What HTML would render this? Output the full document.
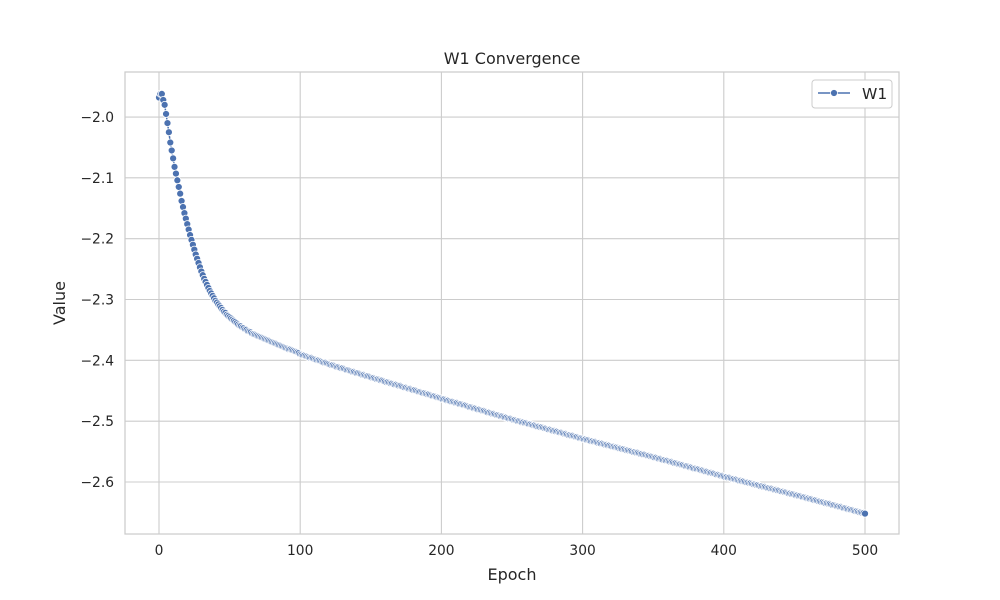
<!DOCTYPE html>
<html><head><meta charset="utf-8"><style>
body{margin:0;background:#fff;}
svg{display:block;font-family:"DejaVu Sans","Liberation Sans",sans-serif;}
</style></head><body>
<svg id="chart" width="1000" height="600">
<rect x="0" y="0" width="1000" height="600" fill="#fff"/>
<g id="grid"></g>
<g id="marks"></g>
<rect x="125" y="72" width="774" height="462" fill="none" stroke="#cccccc" stroke-width="1.25"/>
<g id="ticks"></g>
<text x="512" y="64" text-anchor="middle" font-size="16" fill="#262626">W1 Convergence</text>
<text x="512" y="580" text-anchor="middle" font-size="16" fill="#262626">Epoch</text>
<text x="65" y="303" text-anchor="middle" font-size="16" fill="#262626" transform="rotate(-90 65 303)">Value</text>
<g>
<rect x="812" y="80" width="80" height="28" rx="3" fill="#fff" stroke="#cccccc"/>
<line x1="818" y1="93" x2="850" y2="93" stroke="#4c72b0" stroke-width="1.5"/>
<circle cx="834" cy="93" r="3.5" fill="#4c72b0" stroke="#fff" stroke-width="0.8"/>
<text x="862" y="99" font-size="15.5" fill="#262626">W1</text>
</g>
</svg>
<script>
const xTicks=[0,100,200,300,400,500];
const yTicks=[-2.0,-2.1,-2.2,-2.3,-2.4,-2.5,-2.6];
const yTickLabels=["\u22122.0","\u22122.1","\u22122.2","\u22122.3","\u22122.4","\u22122.5","\u22122.6"];
// values in thousandths (negated), epochs 0..500
const w1Milli=[1968,1962,1962,1972,1980,1995,2010,2025,2042,2055,2068,
2082,2093,2104,2115,2126,2138,2148,2158,2167,2176,
2185,2194,2202,2210,2218,2226,2233,2240,2247,2254,
2260,2266,2271,2276,2281,2286,2290,2294,2298,2302,
2305,2308,2311,2314,2317,2320,2322,2325,2327,2329,
2331,2333,2335,2337,2339,2341,2343,2344,2346,2347,
2349,2350,2352,2353,2354,2356,2357,2358,2359,2360,
2361,2362,2363,2364,2365,2366,2367,2368,2369,2370,
2371,2372,2373,2374,2375,2376,2377,2378,2379,2380,2381,2382,2382,2383,2384,2385,2386,2387,2388,2390,
2391,2392,2392,2393,2394,2395,2396,2396,2397,2398,
2399,2400,2400,2401,2402,2403,2404,2404,2405,2406,
2407,2408,2408,2409,2410,2411,2411,2412,2413,2413,
2414,2415,2416,2416,2417,2418,2419,2419,2420,2421,
2421,2422,2423,2424,2424,2425,2426,2426,2427,2428,
2429,2429,2430,2431,2431,2432,2433,2433,2434,2435,
2436,2436,2437,2438,2438,2439,2440,2440,2441,2442,
2442,2443,2444,2445,2445,2446,2447,2447,2448,2449,
2449,2450,2451,2452,2452,2453,2454,2454,2455,2456,
2456,2457,2458,2459,2459,2460,2461,2461,2462,2463,
2464,2464,2465,2466,2466,2467,2468,2468,2469,2470,
2470,2471,2472,2472,2473,2474,2474,2475,2476,2477,
2477,2478,2479,2479,2480,2481,2481,2482,2483,2483,
2484,2485,2486,2486,2487,2488,2488,2489,2490,2490,
2491,2492,2492,2493,2494,2494,2495,2496,2496,2497,
2498,2498,2499,2500,2500,2501,2502,2502,2503,2503,
2504,2505,2505,2506,2507,2507,2508,2509,2509,2510,
2510,2511,2512,2512,2513,2514,2514,2515,2516,2516,
2517,2517,2518,2519,2519,2520,2521,2521,2522,2523,
2523,2524,2524,2525,2526,2526,2527,2528,2528,2529,
2530,2530,2531,2531,2532,2533,2533,2534,2534,2535,
2536,2536,2537,2537,2538,2539,2539,2540,2540,2541,
2542,2542,2543,2543,2544,2545,2545,2546,2546,2547,
2548,2548,2549,2549,2550,2551,2551,2552,2552,2553,
2554,2554,2555,2555,2556,2557,2557,2558,2558,2559,
2560,2560,2561,2562,2562,2563,2564,2564,2565,2565,
2566,2567,2567,2568,2569,2569,2570,2571,2571,2572,
2572,2573,2574,2574,2575,2576,2576,2577,2578,2578,
2579,2579,2580,2581,2581,2582,2583,2583,2584,2585,
2585,2586,2586,2587,2588,2588,2589,2590,2590,2591,
2592,2592,2593,2593,2594,2595,2595,2596,2596,2597,
2598,2598,2599,2599,2600,2601,2601,2602,2602,2603,
2604,2604,2605,2605,2606,2607,2607,2608,2608,2609,
2610,2610,2611,2611,2612,2613,2613,2614,2614,2615,
2616,2616,2617,2617,2618,2619,2619,2620,2620,2621,
2622,2622,2623,2623,2624,2625,2625,2626,2627,2627,
2628,2628,2629,2630,2630,2631,2632,2632,2633,2633,
2634,2635,2635,2636,2636,2637,2638,2638,2639,2640,
2640,2641,2641,2642,2643,2643,2644,2645,2645,2646,
2646,2647,2648,2648,2649,2650,2650,2651,2651,2652];

const NS="http://www.w3.org/2000/svg";
const X0=125,X1=899,Y0=72,Y1=534;
const xMin=-24.08,xMax=524.08,yMin=-2.6855,yMax=-1.926;
function xs(v){return X0+(v-xMin)/(xMax-xMin)*(X1-X0);}
function ys(v){return Y1-(v-yMin)/(yMax-yMin)*(Y1-Y0);}
function mk(t,a){const e=document.createElementNS(NS,t);for(const k in a)e.setAttribute(k,a[k]);return e;}
const grid=document.getElementById('grid'),ticks=document.getElementById('ticks'),marks=document.getElementById('marks');
xTicks.forEach(v=>{
 const l=mk('line',{x1:xs(v),x2:xs(v),y1:Y0,y2:Y1,stroke:'#cccccc','stroke-width':1.1});
 
 
 grid.appendChild(l);
 const t=mk('text',{x:xs(v),y:Y1+21,'text-anchor':'middle','font-size':13.8,fill:'#262626'});
 t.textContent=v;
 
 
 ticks.appendChild(t);
});
yTicks.forEach((v,i)=>{
 const l=mk('line',{x1:X0,x2:X1,y1:ys(v),y2:ys(v),stroke:'#cccccc','stroke-width':1.1});
 
 
 grid.appendChild(l);
 const t=mk('text',{x:X0-11,y:ys(v)+5,'text-anchor':'end','font-size':13.8,fill:'#262626'});
 t.textContent=yTickLabels[i];
 
 
 ticks.appendChild(t);
});
let d='';
w1Milli.forEach((m,i)=>{d+=(i?'L':'M')+xs(i).toFixed(2)+','+ys(-m/1000).toFixed(2);});
const path=mk('path',{d:d,fill:'none',stroke:'#4c72b0','stroke-width':1.5});


marks.appendChild(path);
w1Milli.forEach((m,i)=>{
 const c=mk('circle',{cx:xs(i),cy:ys(-m/1000),r:3.5,fill:'#4c72b0',stroke:'#fff','stroke-width':0.75});
 
 
 marks.appendChild(c);
});
</script>
</body></html>
